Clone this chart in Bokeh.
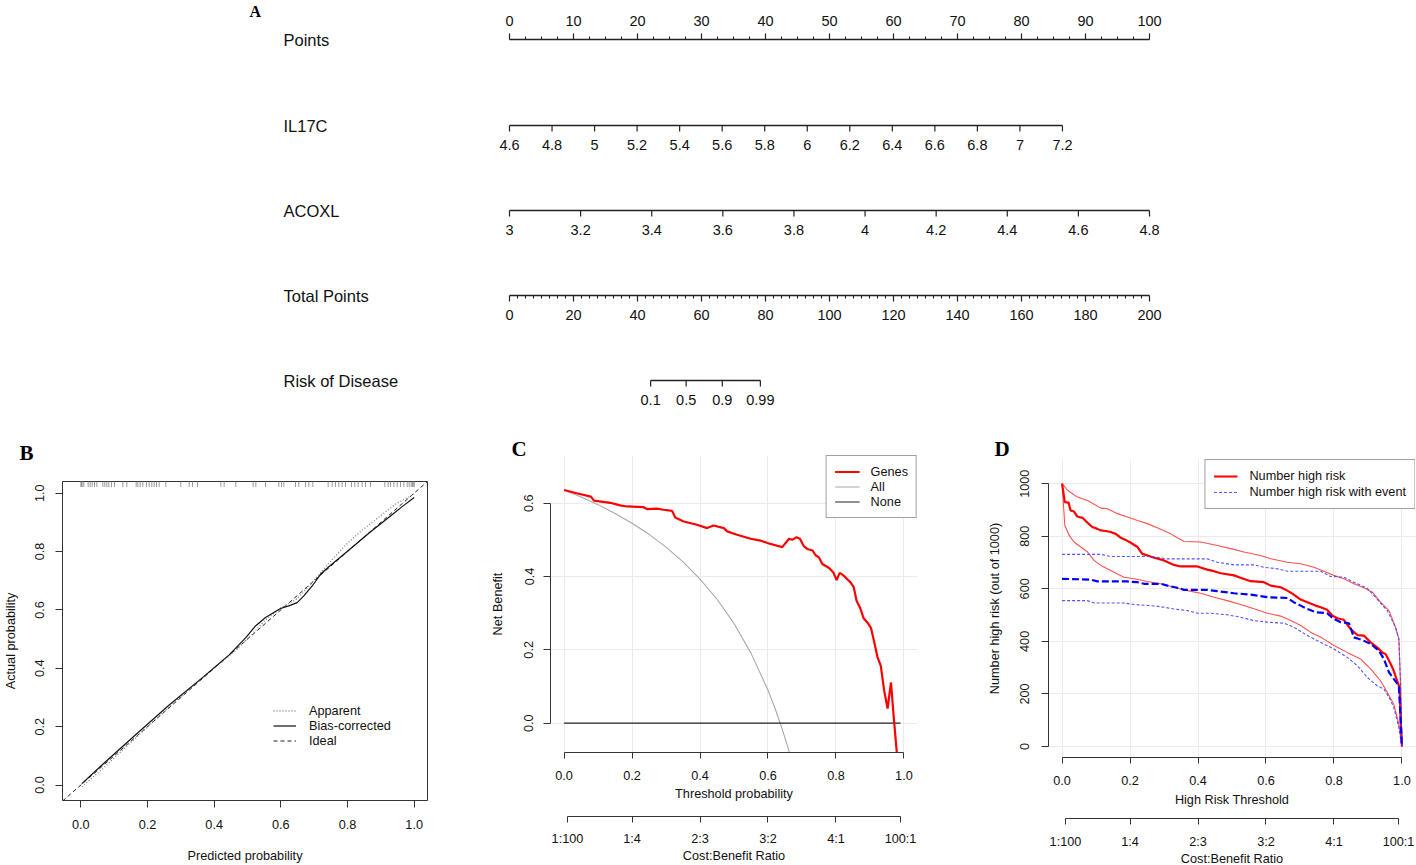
from bokeh.plotting import figure
from bokeh.models import Range1d, FixedTicker, Legend, LegendItem, PrintfTickFormatter
from bokeh.layouts import row, column
from bokeh.embed import file_html
from bokeh.resources import INLINE
from bokeh.core.properties import value

# ======================= DATA =======================
# ---- Panel A : nomogram ----
points_ticks = [0, 10, 20, 30, 40, 50, 60, 70, 80, 90, 100]
points_minor_step = 2.5
il17c_ticks = [4.6, 4.8, 5.0, 5.2, 5.4, 5.6, 5.8, 6.0, 6.2, 6.4, 6.6, 6.8, 7.0, 7.2]
il17c_labels = ["4.6", "4.8", "5", "5.2", "5.4", "5.6", "5.8", "6", "6.2", "6.4", "6.6", "6.8", "7", "7.2"]
il17c_points_at_max = 86.4          # points given to IL17C = 7.2
acoxl_ticks = [3.0, 3.2, 3.4, 3.6, 3.8, 4.0, 4.2, 4.4, 4.6, 4.8]
acoxl_labels = ["3", "3.2", "3.4", "3.6", "3.8", "4", "4.2", "4.4", "4.6", "4.8"]
acoxl_points_at_max = 100.0
total_ticks = [0, 20, 40, 60, 80, 100, 120, 140, 160, 180, 200]
total_minor_step = 2.5
risk_labels = ["0.1", "0.5", "0.9", "0.99"]
risk_total_points = [44.1, 55.2, 66.5, 78.4]
row_names = ["Points", "IL17C", "ACOXL", "Total Points", "Risk of Disease"]

# ---- Panel B : calibration ----
rug_pred = [0.0, 0.002, 0.004, 0.009, 0.022, 0.028, 0.034, 0.041, 0.048, 0.066, 0.072, 0.078,
            0.084, 0.092, 0.101, 0.126, 0.138, 0.166, 0.171, 0.178, 0.186, 0.197, 0.205, 0.213,
            0.220, 0.227, 0.235, 0.255, 0.300, 0.325, 0.335, 0.350, 0.420, 0.430, 0.465, 0.517,
            0.525, 0.554, 0.594, 0.602, 0.609, 0.644, 0.654, 0.674, 0.684, 0.696, 0.742, 0.754,
            0.764, 0.774, 0.784, 0.794, 0.812, 0.822, 0.832, 0.844, 0.854, 0.869, 0.912, 0.922,
            0.929, 0.939, 0.949, 0.959, 0.969, 0.979, 0.985, 0.991, 0.995, 0.999, 1.0]
bias_x = [0.003, 0.066, 0.166, 0.265, 0.365, 0.445, 0.495, 0.524, 0.554, 0.599, 0.624, 0.649,
          0.669, 0.694, 0.719, 0.744, 0.799, 0.863, 0.913, 0.963, 1.0]
bias_y = [0.005, 0.071, 0.174, 0.274, 0.368, 0.446, 0.505, 0.545, 0.574, 0.605, 0.614, 0.625,
          0.648, 0.682, 0.722, 0.748, 0.800, 0.862, 0.907, 0.953, 0.985]
app_x = [0.003, 0.066, 0.166, 0.265, 0.365, 0.465, 0.514, 0.554, 0.599, 0.644, 0.669, 0.704,
         0.744, 0.794, 0.843, 0.893, 0.943, 1.0]
app_y = [-0.006, 0.056, 0.163, 0.268, 0.368, 0.462, 0.517, 0.566, 0.606, 0.634, 0.662, 0.708,
         0.760, 0.822, 0.872, 0.917, 0.962, 0.997]

# ---- Panel C : decision curve ----
genes_thr = [0, 0.037, 0.079, 0.088, 0.136, 0.165, 0.185, 0.234, 0.244, 0.273, 0.293, 0.318,
             0.327, 0.352, 0.391, 0.421, 0.44, 0.47, 0.48, 0.509, 0.549, 0.578, 0.603, 0.642,
             0.662, 0.671, 0.684, 0.694, 0.706, 0.716, 0.731, 0.74, 0.75, 0.76, 0.78, 0.793,
             0.802, 0.811, 0.822, 0.834, 0.843, 0.852, 0.861, 0.871, 0.881, 0.893, 0.903, 0.912,
             0.922, 0.932, 0.942, 0.952, 0.962, 0.971, 0.981]
genes_nb = [0.636, 0.627, 0.618, 0.607, 0.601, 0.594, 0.591, 0.589, 0.584, 0.585, 0.582, 0.579,
            0.561, 0.550, 0.541, 0.532, 0.539, 0.532, 0.523, 0.514, 0.503, 0.498, 0.490, 0.480,
            0.503, 0.500, 0.507, 0.503, 0.482, 0.475, 0.471, 0.458, 0.452, 0.434, 0.423, 0.410,
            0.390, 0.410, 0.403, 0.392, 0.384, 0.372, 0.333, 0.315, 0.287, 0.274, 0.260, 0.224,
            0.181, 0.156, 0.088, 0.040, 0.111, 0.006, -0.10]
all_thr = [0.0, 0.05, 0.1, 0.15, 0.2, 0.25, 0.3, 0.35, 0.4, 0.45, 0.5, 0.55, 0.6, 0.62, 0.64,
           0.66, 0.67]
all_nb = [0.636, 0.617, 0.596, 0.572, 0.545, 0.515, 0.480, 0.440, 0.393, 0.338, 0.272, 0.191,
          0.090, 0.042, -0.011, -0.070, -0.103]
none_thr = [0.0, 0.99]
none_nb = [0.0, 0.0]
cost_ticks = [0.0099, 0.2, 0.4, 0.6, 0.8, 0.9901]
cost_labels = ["1:100", "1:4", "2:3", "3:2", "4:1", "100:1"]

# ---- Panel D : clinical impact ----
nhr_x = [0, 0.008, 0.019, 0.025, 0.035, 0.045, 0.06, 0.075, 0.089, 0.104, 0.114, 0.128, 0.143,
         0.158, 0.173, 0.187, 0.202, 0.222, 0.236, 0.251, 0.271, 0.3, 0.329, 0.349, 0.398, 0.427,
         0.447, 0.467, 0.506, 0.525, 0.555, 0.594, 0.614, 0.643, 0.663, 0.682, 0.702, 0.722,
         0.746, 0.761, 0.78, 0.795, 0.81, 0.829, 0.849, 0.869, 0.888, 0.908, 0.927, 0.942,
         0.952, 0.967, 0.976, 0.986, 0.993, 0.996, 1.0]
nhr_y = [1000, 930, 928, 898, 894, 875, 870, 851, 835, 828, 822, 820, 816, 809, 794, 786, 775,
         759, 733, 727, 718, 708, 691, 685, 685, 673, 667, 659, 651, 642, 629, 625, 612, 606,
         593, 578, 559, 549, 536, 530, 520, 498, 488, 482, 447, 424, 422, 396, 377, 358, 352,
         314, 288, 250, 225, 111, 0]
nhr_hi_x = [0, 0.016, 0.045, 0.075, 0.114, 0.133, 0.163, 0.192, 0.222, 0.251, 0.28, 0.32, 0.339,
            0.359, 0.408, 0.457, 0.506, 0.535, 0.584, 0.614, 0.663, 0.702, 0.741, 0.771, 0.8,
            0.829, 0.859, 0.888, 0.913, 0.937, 0.962, 0.981, 0.991, 0.996, 1.0]
nhr_hi_y = [1000, 975, 949, 936, 907, 905, 886, 873, 860, 848, 832, 809, 794, 780, 778, 765, 750,
            740, 727, 714, 701, 695, 682, 667, 651, 638, 619, 604, 587, 549, 517, 454, 409, 238, 0]
nhr_lo_x = [0, 0.008, 0.021, 0.035, 0.055, 0.075, 0.094, 0.114, 0.143, 0.182, 0.212, 0.251, 0.29,
            0.329, 0.369, 0.408, 0.447, 0.486, 0.525, 0.565, 0.604, 0.643, 0.673, 0.702, 0.731,
            0.761, 0.8, 0.839, 0.878, 0.908, 0.937, 0.957, 0.976, 0.991, 1.0]
nhr_lo_y = [1000, 841, 803, 778, 759, 740, 708, 689, 670, 644, 638, 628, 619, 606, 593, 583, 568,
            555, 540, 524, 507, 496, 479, 460, 435, 416, 384, 358, 333, 295, 250, 206, 161, 85, 0]
nev_x = [0, 0.084, 0.104, 0.192, 0.222, 0.241, 0.29, 0.31, 0.339, 0.359, 0.427, 0.457, 0.506,
         0.555, 0.604, 0.663, 0.682, 0.702, 0.722, 0.746, 0.78, 0.8, 0.82, 0.844, 0.859, 0.883,
         0.908, 0.932, 0.947, 0.962, 0.976, 0.991, 0.996, 1.0]
nev_y = [638, 635, 628, 628, 625, 619, 619, 612, 604, 596, 596, 591, 583, 578, 568, 565, 549, 536,
         523, 511, 507, 485, 473, 469, 415, 405, 390, 365, 333, 282, 257, 231, 111, 0]
nev_hi_x = [0, 0.114, 0.143, 0.261, 0.31, 0.427, 0.457, 0.506, 0.565, 0.594, 0.633, 0.663, 0.761,
            0.79, 0.829, 0.859, 0.898, 0.922, 0.957, 0.981, 0.991, 0.996, 1.0]
nev_hi_y = [731, 731, 723, 723, 714, 714, 701, 691, 691, 682, 676, 667, 667, 647, 644, 625, 602,
            568, 517, 454, 409, 238, 0]
nev_lo_x = [0, 0.075, 0.094, 0.182, 0.212, 0.261, 0.3, 0.329, 0.369, 0.398, 0.437, 0.486, 0.525,
            0.565, 0.604, 0.653, 0.682, 0.722, 0.761, 0.8, 0.839, 0.869, 0.898, 0.927, 0.947,
            0.962, 0.976, 0.991, 1.0]
nev_lo_y = [555, 555, 546, 546, 540, 536, 530, 523, 517, 507, 507, 501, 492, 479, 473, 469, 454,
            422, 396, 371, 339, 307, 263, 231, 219, 187, 149, 72, 0]
unit_ticks = [0.0, 0.2, 0.4, 0.6, 0.8, 1.0]
nb_ticks = [0.0, 0.2, 0.4, 0.6]
count_ticks = [0, 200, 400, 600, 800, 1000]

# ======================= STYLE / LAYOUT =======================
SANS = "Liberation Sans"
SERIF = "Liberation Serif"
FS = "12.7px"
AXC = "#333333"
TXT = "#111111"
GRIDC = "#ebebeb"


def make_fig(w, h, xr, yr, ml, mr, mt, mb, **kw):
    p = figure(width=w, height=h, x_range=xr, y_range=yr, output_backend="svg",
               toolbar_location=None, min_border_left=ml, min_border_right=mr,
               min_border_top=mt, min_border_bottom=mb, **kw)
    p.outline_line_color = None
    p.border_fill_color = "white"
    p.background_fill_color = "white"
    return p


def style_axis(ax, ticks, fmt=None, overrides=None, bounds=None, tick_out=7, lab_standoff=8,
               title="", title_standoff=5, vertical=False, show_line=True):
    ax.ticker = FixedTicker(ticks=ticks)
    if fmt:
        ax.formatter = PrintfTickFormatter(format=fmt)
    if overrides:
        ax.major_label_overrides = overrides
    if bounds:
        ax.bounds = bounds
    ax.major_tick_out = tick_out
    ax.major_tick_in = 0
    ax.minor_tick_line_color = None
    ax.major_tick_line_color = AXC
    ax.axis_line_color = AXC if show_line else None
    ax.major_label_standoff = lab_standoff
    ax.major_label_text_font = SANS
    ax.major_label_text_font_size = FS
    ax.major_label_text_color = TXT
    ax.axis_label = title
    ax.axis_label_text_font = SANS
    ax.axis_label_text_font_size = FS
    ax.axis_label_text_font_style = "normal"
    ax.axis_label_text_color = TXT
    ax.axis_label_standoff = title_standoff
    if vertical:
        ax.major_label_orientation = "vertical"


def letter(p, txt, offset, standoff):
    p.title.text = txt
    p.title.align = "left"
    p.title.offset = offset
    p.title.standoff = standoff
    p.title.text_font = SERIF
    p.title.text_font_style = "bold"
    p.title.text_font_size = "21px"
    p.title.text_color = "black"


# ----------------------- Panel A -----------------------
A_W, A_H = 1416, 412
PX_PER_PT = 6.4
PT0 = 509
xA = Range1d(-PT0 / PX_PER_PT, (A_W - PT0) / PX_PER_PT)
yA = Range1d(A_H, 0)          # y in pixels, downwards
pA = figure(width=A_W, height=A_H, x_range=xA, y_range=yA, output_backend="svg",
            toolbar_location=None, min_border=0, x_axis_location=None, y_axis_location=None)
pA.grid.visible = False
pA.outline_line_color = None

row_y = [39, 125, 210, 295, 380]
LBL_X = (283 - PT0) / PX_PER_PT
LINEC = "#222222"


def nomo_row(y, pos, labels, above, minor=None):
    d = -1 if above else 1
    pA.segment(x0=[min(pos)], y0=[y], x1=[max(pos)], y1=[y], line_color=LINEC, line_width=1.4)
    pA.segment(x0=pos, y0=[y] * len(pos), x1=pos, y1=[y + d * 6] * len(pos),
               line_color=LINEC, line_width=1.2)
    if minor:
        pA.segment(x0=minor, y0=[y] * len(minor), x1=minor, y1=[y + d * 3] * len(minor),
                   line_color=LINEC, line_width=1.1)
    pA.text(x=pos, y=[y + d * 19] * len(pos), text=labels, text_font=value(SANS),
            text_font_size="14.5px", text_align="center", text_baseline="middle",
            text_color=TXT)


pts_minor = [i * points_minor_step for i in range(int(100 / points_minor_step) + 1)
             if (i * points_minor_step) % 10 != 0]
nomo_row(row_y[0], points_ticks, [str(t) for t in points_ticks], True, pts_minor)
il_pos = [(v - il17c_ticks[0]) / (il17c_ticks[-1] - il17c_ticks[0]) * il17c_points_at_max
          for v in il17c_ticks]
nomo_row(row_y[1], il_pos, il17c_labels, False)
ac_pos = [(v - acoxl_ticks[0]) / (acoxl_ticks[-1] - acoxl_ticks[0]) * acoxl_points_at_max
          for v in acoxl_ticks]
nomo_row(row_y[2], ac_pos, acoxl_labels, False)
tot_pos = [t / 2 for t in total_ticks]
tot_minor = [i * total_minor_step / 2 for i in range(int(200 / total_minor_step) + 1)
             if (i * total_minor_step) % 20 != 0]
nomo_row(row_y[3], tot_pos, [str(t) for t in total_ticks], False, tot_minor)
risk_pos = [t / 2 for t in risk_total_points]
nomo_row(row_y[4], risk_pos, risk_labels, False)
pA.text(x=[LBL_X] * len(row_names), y=row_y, text=row_names, text_font=value(SANS),
        text_font_size="16.5px", text_align="left", text_baseline="middle", text_color=TXT)
pA.text(x=[(249 - PT0) / PX_PER_PT], y=[11], text=["A"], text_font=value(SERIF),
        text_font_style="bold", text_font_size="16px", text_align="left",
        text_baseline="middle", text_color="black")

# ----------------------- Panel B -----------------------
B_X, B_Y = (-0.055, 1.04), (-0.053, 1.04)
pB = make_fig(470, 453, Range1d(*B_X), Range1d(*B_Y), 60, 43, 69, 64)
pB.grid.visible = False
pB.outline_line_color = AXC
style_axis(pB.xaxis[0], unit_ticks, fmt="%.1f", tick_out=7, lab_standoff=12,
           title="Predicted probability", title_standoff=17, show_line=False)
style_axis(pB.yaxis[0], unit_ticks, fmt="%.1f", tick_out=7, lab_standoff=11,
           title="Actual probability", title_standoff=15, vertical=True, show_line=False)
pB.segment(x0=rug_pred, y0=[B_Y[1] - 0.019] * len(rug_pred), x1=rug_pred,
           y1=[B_Y[1]] * len(rug_pred), line_color="#9a9a9a", line_width=1)
r_ideal = pB.line(list(B_X), list(B_X), line_color="#222222", line_dash="4 3", line_width=1)
r_app = pB.line(app_x, app_y, line_color="#808080", line_dash="1 2", line_width=1.3)
r_bias = pB.line(bias_x, bias_y, line_color="#111111", line_width=1.2)
legB = Legend(items=[LegendItem(label="Apparent", renderers=[r_app]),
                     LegendItem(label="Bias-corrected", renderers=[r_bias]),
                     LegendItem(label="Ideal", renderers=[r_ideal])],
              location=(211, 52), border_line_color=None, background_fill_alpha=0,
              padding=0, margin=0, spacing=0, glyph_width=23, glyph_height=15,
              label_height=15, label_standoff=13, label_text_font=SANS,
              label_text_font_size=FS, label_text_color=TXT)
pB.add_layout(legB)
letter(pB, "B", -43, 34)

# ----------------------- Panel C -----------------------
C_X, C_Y = (-0.04, 1.04), (-0.08, 0.73)
pC = make_fig(470, 393, Range1d(*C_X), Range1d(*C_Y), 80, 23, 43, 53)
style_axis(pC.xaxis[0], unit_ticks, fmt="%.1f", bounds=(0, 1), tick_out=6, lab_standoff=12,
           title="Threshold probability", title_standoff=4)
style_axis(pC.yaxis[0], nb_ticks, fmt="%.1f", bounds=(0, 0.6), tick_out=7, lab_standoff=10,
           title="Net Benefit", title_standoff=17, vertical=True)
pC.xgrid[0].ticker = FixedTicker(ticks=unit_ticks)
pC.ygrid[0].ticker = FixedTicker(ticks=nb_ticks)
pC.grid.grid_line_color = GRIDC
r_all = pC.line(all_thr, all_nb, line_color="#a8a8a8", line_width=1.1)
r_none = pC.line(none_thr, none_nb, line_color="#222222", line_width=1.1)
r_genes = pC.line(genes_thr, genes_nb, line_color="#ff0000", line_width=2.2)
legC = Legend(items=[LegendItem(label="Genes", renderers=[r_genes]),
                     LegendItem(label="All", renderers=[r_all]),
                     LegendItem(label="None", renderers=[r_none])],
              location="top_right", border_line_color="#444444", border_line_width=1,
              background_fill_color="white", background_fill_alpha=1, padding=8, margin=0,
              spacing=0, glyph_width=25, glyph_height=15, label_height=15, label_standoff=11,
              label_text_font=SANS, label_text_font_size=FS, label_text_color=TXT)
pC.add_layout(legC)
letter(pC, "C", -39, -10)

pCc = make_fig(470, 60, pC.x_range, Range1d(0, 1), 80, 23, 10, 49, y_axis_location=None)
pCc.grid.visible = False
style_axis(pCc.xaxis[0], cost_ticks, overrides=dict(zip(cost_ticks, cost_labels)),
           bounds=(cost_ticks[0], cost_ticks[-1]), tick_out=6, lab_standoff=9,
           title="Cost:Benefit Ratio", title_standoff=0)

# ----------------------- Panel D -----------------------
D_X, D_Y = (-0.04, 1.04), (-42, 1092)
pD = make_fig(476, 397, Range1d(*D_X), Range1d(*D_Y), 108, 1, 47, 52)
style_axis(pD.xaxis[0], unit_ticks, fmt="%.1f", bounds=(0, 1), tick_out=6, lab_standoff=12,
           title="High Risk Threshold", title_standoff=5)
style_axis(pD.yaxis[0], count_ticks, fmt="%d", bounds=(0, 1000), tick_out=7, lab_standoff=12,
           title="Number high risk (out of 1000)", title_standoff=16, vertical=True)
pD.xgrid[0].ticker = FixedTicker(ticks=unit_ticks)
pD.ygrid[0].ticker = FixedTicker(ticks=count_ticks)
pD.grid.grid_line_color = GRIDC
pD.line(nhr_hi_x, nhr_hi_y, line_color="#ff3030", line_width=1.1, line_alpha=0.85)
pD.line(nhr_lo_x, nhr_lo_y, line_color="#ff3030", line_width=1.1, line_alpha=0.85)
r_nhr = pD.line(nhr_x, nhr_y, line_color="#ff0000", line_width=2.2)
r_nev_hi = pD.line(nev_hi_x, nev_hi_y, line_color="#4040ff", line_width=1.1, line_dash="3 2",
                   line_alpha=0.9)
pD.line(nev_lo_x, nev_lo_y, line_color="#4040ff", line_width=1.1, line_dash="3 2",
        line_alpha=0.9)
pD.line(nev_x, nev_y, line_color="#0000ff", line_width=2.2, line_dash="7 3")
legD = Legend(items=[LegendItem(label="Number high risk", renderers=[r_nhr]),
                     LegendItem(label="Number high risk with event", renderers=[r_nev_hi])],
              location="top_right", border_line_color="#444444", border_line_width=1,
              background_fill_color="white", background_fill_alpha=1, padding=8, margin=0,
              spacing=0, glyph_width=24, glyph_height=16, label_height=16, label_standoff=12,
              label_text_font=SANS, label_text_font_size=FS, label_text_color=TXT)
pD.add_layout(legD)
letter(pD, "D", -54, -3)

pDc = make_fig(476, 56, pD.x_range, Range1d(0, 1), 108, 1, 9, 46, y_axis_location=None)
pDc.grid.visible = False
style_axis(pDc.xaxis[0], cost_ticks, overrides=dict(zip(cost_ticks, cost_labels)),
           bounds=(cost_ticks[0], cost_ticks[-1]), tick_out=6, lab_standoff=10,
           title="Cost:Benefit Ratio", title_standoff=0)

layout = column(pA, row(pB, column(pC, pCc), column(pD, pDc)))
open("out.html", "w").write(file_html(layout, INLINE))
